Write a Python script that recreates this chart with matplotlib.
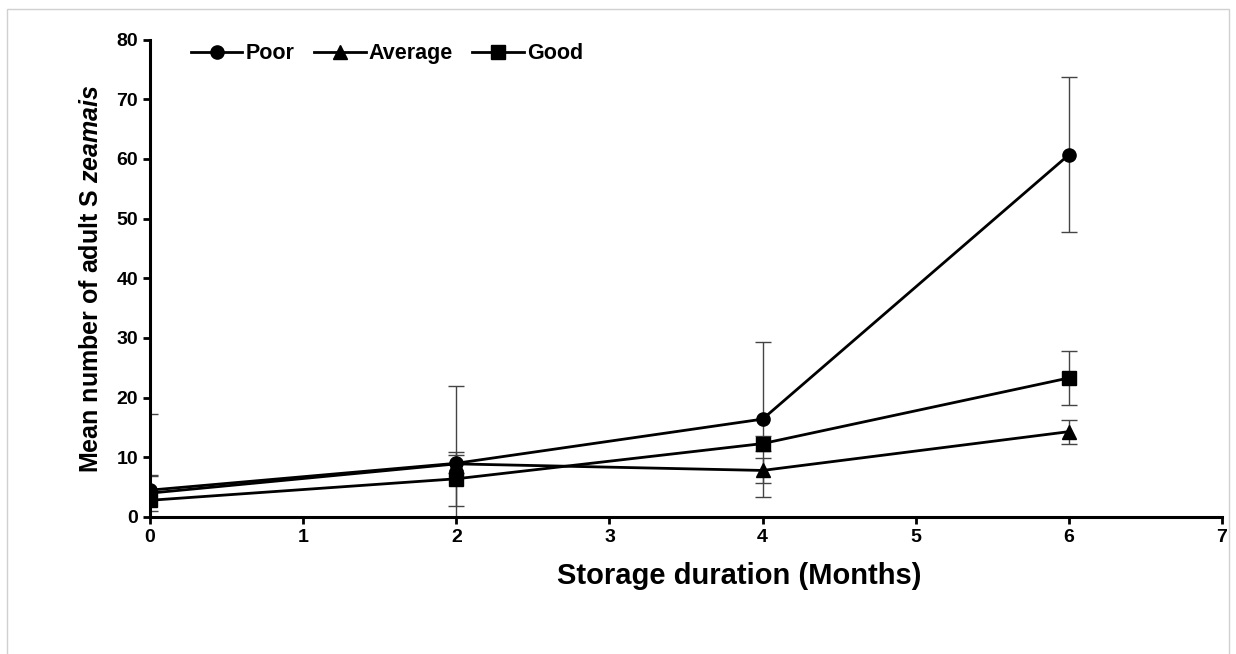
import numpy as np
import matplotlib
matplotlib.use("Agg")
import matplotlib.pyplot as plt
from matplotlib.patches import Rectangle

plt.rcParams['font.family'] = ['Liberation Sans', 'DejaVu Sans']
plt.rcParams['font.weight'] = 'bold'
plt.rcParams['mathtext.fontset'] = 'custom'
plt.rcParams['mathtext.it'] = 'Liberation Sans:italic:bold'
plt.rcParams['mathtext.rm'] = 'Liberation Sans:bold'

# Data
months = [0, 2, 4, 6]
poor = [4.5, 9.0, 16.4, 60.7]
poor_err = [12.8, 13.0, 13.0, 13.0]
average = [4.0, 8.9, 7.8, 14.3]
average_err = [3.0, 1.5, 2.1, 2.0]
good = [2.8, 6.4, 12.3, 23.3]
good_err = [4.0, 4.5, 1.2, 4.5]

series = [
    ("Poor", poor, poor_err, "o"),
    ("Average", average, average_err, "^"),
    ("Good", good, good_err, "s"),
]

fig = plt.figure(figsize=(12.36, 6.54), dpi=100)
ax = fig.add_axes([0.1214, 0.2095, 0.8673, 0.73])

for name, vals, errs, mk in series:
    ax.errorbar(months, vals, yerr=errs, fmt="none", ecolor="#444444",
                elinewidth=1.0, capsize=6, capthick=1.0, zorder=2)
    ax.plot(months, vals, color="black", lw=2.0, marker=mk, ms=9.5,
            label=name, zorder=3)

ax.set_xlim(0, 7)
ax.set_ylim(0, 80)
ax.set_xticks(range(0, 8))
ax.set_yticks(range(0, 81, 10))
ax.tick_params(axis="both", labelsize=14, width=2, length=5, direction="out")
for lbl in ax.get_xticklabels() + ax.get_yticklabels():
    lbl.set_fontweight("bold")

for side in ["top", "right"]:
    ax.spines[side].set_visible(False)
for side in ["left", "bottom"]:
    ax.spines[side].set_linewidth(2.2)

ax.set_xlabel("Storage duration (Months)", fontsize=21, fontweight="bold")
ax.xaxis.set_label_coords(0.55, -0.095)
ax.set_ylabel("Mean number of adult S $\\mathit{zeamais}$", fontsize=18,
              fontweight="bold", labelpad=10)

leg = ax.legend(loc="upper left", ncol=3, frameon=False, fontsize=15.5,
                handlelength=2.4, columnspacing=0.9, handletextpad=0.15,
                bbox_to_anchor=(0.03, 1.01), borderaxespad=0)
for t in leg.get_texts():
    t.set_fontweight("bold")

# light frame around the picture
fig.patches.append(Rectangle((0.006, -0.01), 0.988, 0.996, transform=fig.transFigure,
                             fill=False, edgecolor="#d0d0d0", lw=1.0))

fig.savefig("out.png", dpi=100)
